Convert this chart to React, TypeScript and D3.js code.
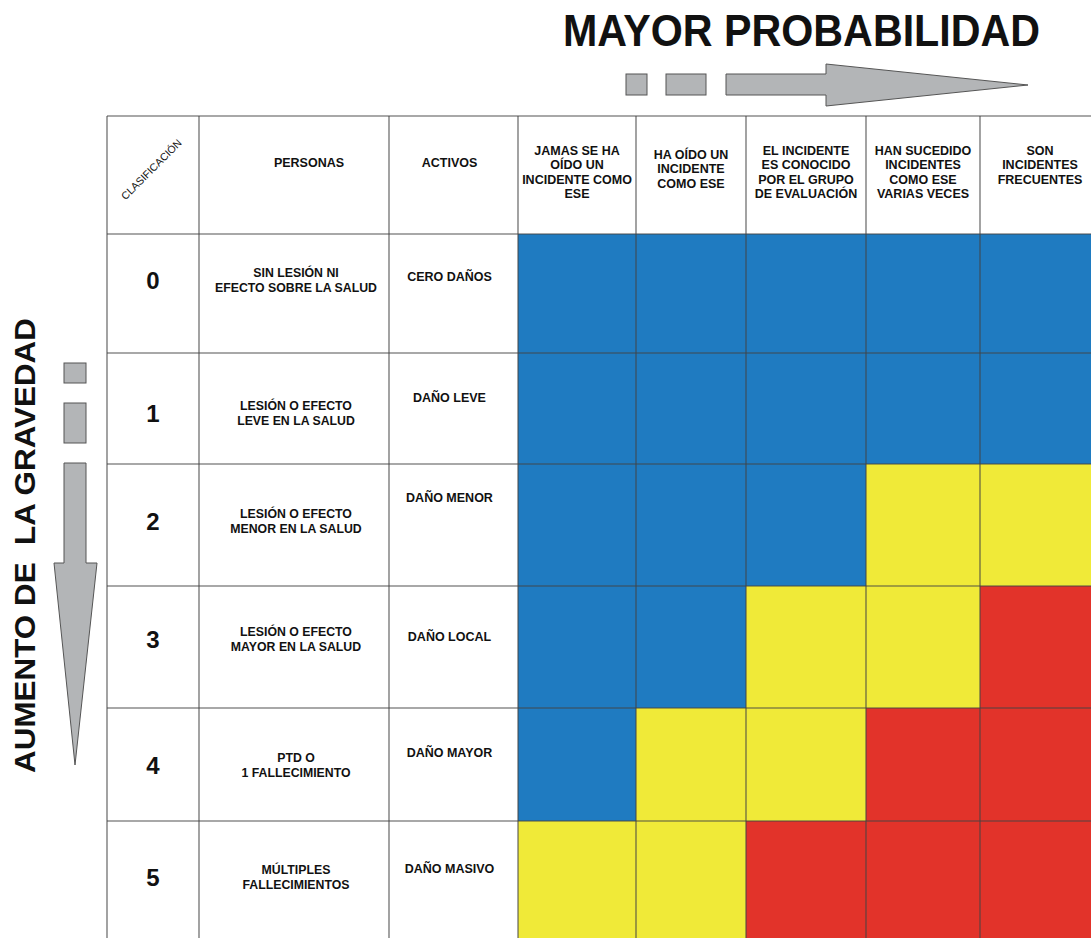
import React from "react";
import * as d3 from "d3";

// ---------- DATA ----------
const title = "MAYOR PROBABILIDAD";
const sideTitle = "AUMENTO DE  LA GRAVEDAD";
const cornerLabel = "CLASIFICACIÓN";
const headPersonas = "PERSONAS";
const headActivos = "ACTIVOS";

const probabilityHeaders: string[][] = [
  ["JAMAS SE HA", "OÍDO UN", "INCIDENTE COMO", "ESE"],
  ["HA OÍDO UN", "INCIDENTE", "COMO ESE"],
  ["EL INCIDENTE", "ES CONOCIDO", "POR EL GRUPO", "DE EVALUACIÓN"],
  ["HAN SUCEDIDO", "INCIDENTES", "COMO ESE", "VARIAS VECES"],
  ["SON", "INCIDENTES", "FRECUENTES"],
];

const severityLevels = ["0", "1", "2", "3", "4", "5"];

const personas: string[][] = [
  ["SIN LESIÓN NI", "EFECTO SOBRE LA SALUD"],
  ["LESIÓN O EFECTO", "LEVE EN LA SALUD"],
  ["LESIÓN O EFECTO", "MENOR EN LA SALUD"],
  ["LESIÓN O EFECTO", "MAYOR EN LA SALUD"],
  ["PTD O", "1 FALLECIMIENTO"],
  ["MÚLTIPLES", "FALLECIMIENTOS"],
];

const activos = [
  "CERO DAÑOS",
  "DAÑO LEVE",
  "DAÑO MENOR",
  "DAÑO LOCAL",
  "DAÑO MAYOR",
  "DAÑO MASIVO",
];

// risk level per severity row (B = bajo, M = medio, A = alto)
const riskMatrix: string[][] = [
  ["B", "B", "B", "B", "B"],
  ["B", "B", "B", "B", "B"],
  ["B", "B", "B", "M", "M"],
  ["B", "B", "M", "M", "A"],
  ["B", "M", "M", "A", "A"],
  ["M", "M", "A", "A", "A"],
];

// ---------- LAYOUT ----------
const W = 1091;
const H = 938;
const colEdges = [107, 199, 389, 518, 636, 746, 866, 980, 1100];
const rowEdges = [116, 234, 353, 464, 586, 708, 821, 945];
const labelOffsets = [46, 60, 57, 53, 57, 56]; // center of number/personas from row top
const activoOffsets = [42, 44, 33, 50, 44, 47];
const headerFirstBaseline = [155, 159, 155, 155, 155];

const riskColor = d3
  .scaleOrdinal<string, string>()
  .domain(["B", "M", "A"])
  .range(["#1f7bc1", "#f0ea38", "#e2332a"]);

const FONT = "'Liberation Sans', Arial, Helvetica, sans-serif";

export default function App() {
  const probIdx = d3.range(probabilityHeaders.length);
  const colX = (i: number) => colEdges[i];
  const xProb = d3
    .scaleOrdinal<number, number>()
    .domain(probIdx)
    .range(probIdx.map((i) => colEdges[i + 3]));
  const wProb = (i: number) => colEdges[i + 4] - colEdges[i + 3];
  const rowIdx = d3.range(severityLevels.length);
  const yRow = d3
    .scaleOrdinal<number, number>()
    .domain(rowIdx)
    .range(rowIdx.map((i) => rowEdges[i + 1]));
  const hRow = (i: number) => rowEdges[i + 2] - rowEdges[i + 1];

  const lineH = 14.4;
  const gridStroke = "#444";

  // top arrow
  const ay0 = 74, ay1 = 95;
  const arrowTop = `M726,${ay0} L826,${ay0} L826,64 L1028,85 L826,106 L826,${ay1} L726,${ay1} Z`;
  // side arrow
  const sx0 = 64, sx1 = 86;
  const arrowSide = `M${sx0},463 L${sx1},463 L${sx1},563 L97,563 L75,765 L54,563 L${sx0},563 Z`;

  return (
    <svg
      width={W}
      height={H}
      style={{ position: "absolute", left: 0, top: 0, background: "#fff" }}
      fontFamily={FONT}
    >
      <rect x={0} y={0} width={W} height={H} fill="#fff" />
      {/* Title */}
      <text
        x={563}
        y={46}
        fontSize={44}
        fontWeight="bold"
        fill="#111"
        textLength={477}
        lengthAdjust="spacingAndGlyphs"
      >
        {title}
      </text>
      {/* top arrow */}
      <g fill="#b3b5b7" stroke="#555" strokeWidth={1}>
        <rect x={626} y={ay0} width={21} height={ay1 - ay0} />
        <rect x={666} y={ay0} width={40} height={ay1 - ay0} />
        <path d={arrowTop} />
      </g>
      {/* side title */}
      <text
        transform="translate(35,773) rotate(-90)"
        fontSize={30}
        fontWeight="bold"
        fill="#111"
        textLength={455}
        lengthAdjust="spacingAndGlyphs"
        xmlSpace="preserve"
        style={{ whiteSpace: "pre" }}
      >
        {sideTitle}
      </text>
      <g fill="#b3b5b7" stroke="#555" strokeWidth={1}>
        <rect x={sx0} y={363} width={sx1 - sx0} height={20} />
        <rect x={sx0} y={403} width={sx1 - sx0} height={40} />
        <path d={arrowSide} />
      </g>

      {/* risk cells */}
      {riskMatrix.map((row, r) =>
        row.map((lvl, c) => (
          <rect
            key={`c${r}-${c}`}
            x={xProb(c)}
            y={yRow(r)}
            width={wProb(c)}
            height={hRow(r)}
            fill={riskColor(lvl)}
          />
        ))
      )}

      {/* grid lines */}
      <g stroke={gridStroke} strokeOpacity={0.62} strokeWidth={1.6}>
        {colEdges.slice(0, -1).map((x, i) => (
          <line key={`v${i}`} x1={x} x2={x} y1={rowEdges[0]} y2={H} />
        ))}
        {rowEdges.slice(0, -1).map((y, i) => (
          <line key={`h${i}`} x1={colEdges[0]} x2={W} y1={y} y2={y} />
        ))}
      </g>

      {/* header texts */}
      <text
        transform={`translate(${(colX(0) + colX(1)) / 2 + 1},172) rotate(-45)`}
        fontSize={10.5}
        textAnchor="middle"
        fill="#111"
      >
        {cornerLabel}
      </text>
      <g fontWeight="bold" fontSize={12.5} fill="#111" textAnchor="middle">
        <text x={(colX(1) + colX(2)) / 2 + 15} y={167}>
          {headPersonas}
        </text>
        <text x={(colX(2) + colX(3)) / 2 - 4} y={167}>
          {headActivos}
        </text>
        {probabilityHeaders.map((lines, i) => (
          <text key={`ph${i}`}>
            {lines.map((ln, j) => (
              <tspan
                key={j}
                x={xProb(i) + wProb(i) / 2}
                y={headerFirstBaseline[i] + j * lineH}
              >
                {ln}
              </tspan>
            ))}
          </text>
        ))}
      </g>

      {/* row labels */}
      {rowIdx.map((r) => {
        const top = yRow(r);
        const cy = top + labelOffsets[r];
        const pl = personas[r];
        const pStart = cy - ((pl.length - 1) * lineH) / 2 + 4.5;
        return (
          <g key={`row${r}`} fill="#111" fontWeight="bold" textAnchor="middle">
            <text x={(colX(0) + colX(1)) / 2} y={cy + 8.5} fontSize={24}>
              {severityLevels[r]}
            </text>
            <text fontSize={12.3}>
              {pl.map((ln, j) => (
                <tspan key={j} x={(colX(1) + colX(2)) / 2 + 2} y={pStart + j * lineH}>
                  {ln}
                </tspan>
              ))}
            </text>
            <text
              x={(colX(2) + colX(3)) / 2 - 4}
              y={top + activoOffsets[r] + 4.5}
              fontSize={12.5}
            >
              {activos[r]}
            </text>
          </g>
        );
      })}
    </svg>
  );
}
